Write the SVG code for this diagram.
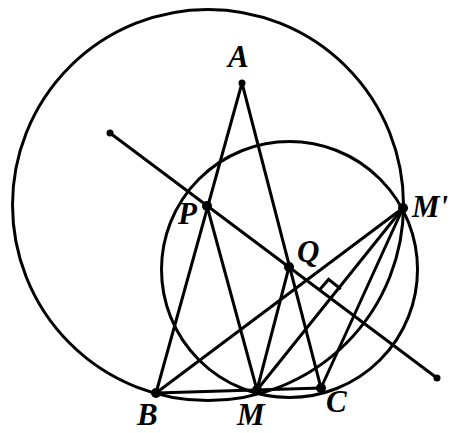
<svg xmlns="http://www.w3.org/2000/svg" width="451" height="433" viewBox="0 0 451 433">
<style>
.ln{stroke:#000;stroke-width:3;fill:none;stroke-linecap:round}
.cc{stroke:#000;stroke-width:3;fill:none}
.dot{fill:#000}
.lb{font-family:"Liberation Serif","Times New Roman",serif;font-weight:bold;font-style:italic;font-size:31px;fill:#000}
</style>
<rect width="451" height="433" fill="#fff"/>
<g id="circles">
<circle class="cc" cx="208" cy="205" r="195.5"/>
<circle class="cc" cx="289.5" cy="269.5" r="128"/>
</g>
<g id="connectors">
<line class="ln" x1="242" y1="83" x2="156" y2="393"/>
<line class="ln" x1="242" y1="83" x2="321" y2="388"/>
<line class="ln" x1="156" y1="393" x2="321" y2="388"/>
<line class="ln" x1="207" y1="206" x2="257" y2="390"/>
<line class="ln" x1="289" y1="267" x2="257" y2="390"/>
<line class="ln" x1="403" y1="208" x2="156" y2="393"/>
<line class="ln" x1="403" y1="208" x2="257" y2="390"/>
<line class="ln" x1="403" y1="208" x2="321" y2="388"/>
<line class="ln" x1="110" y1="133" x2="437" y2="378"/>
<polyline class="ln" stroke-width="2.5" points="319.8,289.6 328.6,279.4 339.8,288.2"/>
<circle class="dot" cx="110" cy="133" r="3.5"/>
<circle class="dot" cx="437" cy="378" r="3.5"/>
</g>
<g id="node-A"><circle class="dot" cx="242" cy="83" r="3.5"/><text class="lb" x="228" y="67">A</text></g>
<g id="node-P"><circle class="dot" cx="207" cy="206" r="5"/><text class="lb" x="178" y="224">P</text></g>
<g id="node-Q"><circle class="dot" cx="289" cy="267" r="5"/><text class="lb" x="297" y="262">Q</text></g>
<g id="node-M-prime"><circle class="dot" cx="403" cy="208" r="5"/><text class="lb" x="412" y="217">M'</text></g>
<g id="node-B"><circle class="dot" cx="156" cy="393" r="5"/><text class="lb" x="137" y="425">B</text></g>
<g id="node-M"><circle class="dot" cx="257" cy="390" r="5"/><text class="lb" x="237" y="425">M</text></g>
<g id="node-C"><circle class="dot" cx="321" cy="388" r="5"/><text class="lb" x="326" y="412">C</text></g>
</svg>
